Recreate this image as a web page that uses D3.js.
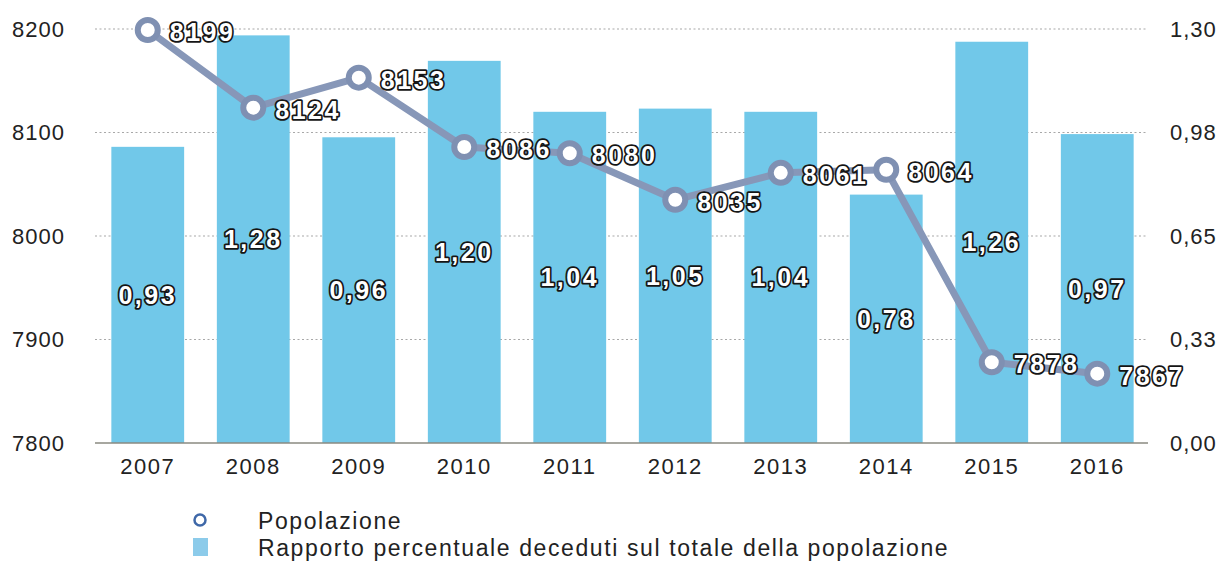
<!DOCTYPE html>
<html><head><meta charset="utf-8">
<script src="https://cdn.jsdelivr.net/npm/d3@7"></script>
<style>
body{margin:0;background:#fff;}
svg{display:block;font-family:"Liberation Sans",Arial,sans-serif;}
</style></head>
<body>
<svg id="c" width="1229" height="561"></svg>
<script>
const years = ["2007","2008","2009","2010","2011","2012","2013","2014","2015","2016"];
const population = [8199,8124,8153,8086,8080,8035,8061,8064,7878,7867];
const deathRatio = [0.93,1.28,0.96,1.20,1.04,1.05,1.04,0.78,1.26,0.97];
const leftTicks = [7800,7900,8000,8100,8200];
const rightTickLabels = ["0,00","0,33","0,65","0,98","1,30"];
const legendLabels = ["Popolazione","Rapporto percentuale deceduti sul totale della popolazione"];

const svg = d3.select("#c");
const X0 = 95, X1 = 1150, Y0 = 443, Y1 = 29;

const x = d3.scaleBand().domain(years).range([X0, X1]).paddingInner(0.31).paddingOuter(0.155);
const yL = d3.scaleLinear().domain([7800, 8200]).range([Y0, Y1]);
const yR = d3.scaleLinear().domain([0, 1.30]).range([Y0, Y1]);
const rightTicks = rightTickLabels.map((d,i)=>1.30*i/(rightTickLabels.length-1));

const fmt = v => v.toFixed(2).replace(".", ",");

// grid lines
svg.append("g").selectAll("line").data(leftTicks.slice(1)).join("line")
  .attr("x1", X0).attr("x2", X1 - 2)
  .attr("y1", d=>yL(d)).attr("y2", d=>yL(d))
  .attr("stroke", "#a8a8a8").attr("stroke-width", 1.2).attr("stroke-dasharray", "2,2.5");

// bars
svg.append("g").selectAll("rect").data(years).join("rect")
  .attr("x", d=>x(d)).attr("width", x.bandwidth())
  .attr("y", (d,i)=>yR(deathRatio[i])).attr("height", (d,i)=>Y0 - yR(deathRatio[i]))
  .attr("fill", "#71c8e9");

// baseline
svg.append("line").attr("x1", X0).attr("x2", X1 - 2).attr("y1", Y0).attr("y2", Y0)
  .attr("stroke", "#8a8a80").attr("stroke-width", 1.5);

// left axis
const axL = svg.append("g").attr("transform", `translate(${X0},0)`)
  .call(d3.axisLeft(yL).tickValues(leftTicks).tickSize(0).tickPadding(30).tickFormat(d3.format("d")));
axL.select(".domain").remove();
axL.selectAll("text").attr("font-size", 22).attr("fill", "#222").attr("font-family", "Liberation Sans, Arial, sans-serif").attr("letter-spacing", 1);

// right axis
const axR = svg.append("g").attr("transform", `translate(${X1},0)`)
  .call(d3.axisRight(yR).tickValues(rightTicks).tickSize(0).tickPadding(20).tickFormat((d,i)=>rightTickLabels[i]));
axR.select(".domain").remove();
axR.selectAll("text").attr("font-size", 22).attr("fill", "#222").attr("font-family", "Liberation Sans, Arial, sans-serif").attr("letter-spacing", 1);

// bottom axis
const axB = svg.append("g").attr("transform", `translate(0,${Y0})`)
  .call(d3.axisBottom(x).tickSize(0).tickPadding(15));
axB.select(".domain").remove();
axB.selectAll("text").attr("font-size", 22).attr("fill", "#222").attr("font-family", "Liberation Sans, Arial, sans-serif").attr("letter-spacing", 1.5);

// halo labels
const haloStyle = sel => sel.attr("font-size", 25).attr("font-weight", "bold")
  .attr("fill", "#fff").attr("stroke", "#151515").attr("stroke-width", 3.5)
  .attr("paint-order", "stroke").attr("stroke-linejoin", "round").attr("letter-spacing", 2.5)
  .attr("dominant-baseline", "central");

svg.append("g").selectAll("text").data(years).join("text")
  .attr("x", d=>x(d) + x.bandwidth()/2)
  .attr("y", (d,i)=>(yR(deathRatio[i]) + Y0)/2)
  .attr("text-anchor", "middle")
  .text((d,i)=>fmt(deathRatio[i]))
  .call(haloStyle);

// line
const cx = d => x(d) + x.bandwidth()/2;
const line = d3.line().x((d,i)=>cx(years[i])).y(d=>yL(d));
svg.append("path").datum(population).attr("d", line)
  .attr("fill", "none").attr("stroke", "#8797b8").attr("stroke-width", 7).attr("stroke-linejoin", "round");

svg.append("g").selectAll("circle").data(population).join("circle")
  .attr("cx", (d,i)=>cx(years[i])).attr("cy", d=>yL(d)).attr("r", 10)
  .attr("fill", "#fff").attr("stroke", "#7f90b2").attr("stroke-width", 6);

svg.append("g").selectAll("text").data(population).join("text")
  .attr("x", (d,i)=>cx(years[i]) + 22).attr("y", d=>yL(d) + 2)
  .attr("text-anchor", "start")
  .text(d=>d)
  .call(haloStyle);

// legend
const lg = svg.append("g");
lg.append("circle").attr("cx", 200).attr("cy", 520).attr("r", 5.5)
  .attr("fill", "#fff").attr("stroke", "#3f68a8").attr("stroke-width", 2.5);
lg.append("rect").attr("x", 193).attr("y", 538).attr("width", 15).attr("height", 18).attr("fill", "#8ccbea");
lg.selectAll("text.lt").data(legendLabels).join("text").attr("class","lt")
  .attr("x", 258).attr("y", (d,i)=>521 + i*27).attr("dominant-baseline", "central")
  .attr("font-size", 23).attr("letter-spacing", 1.6).attr("fill", "#222").text(d=>d);
</script>
</body></html>
